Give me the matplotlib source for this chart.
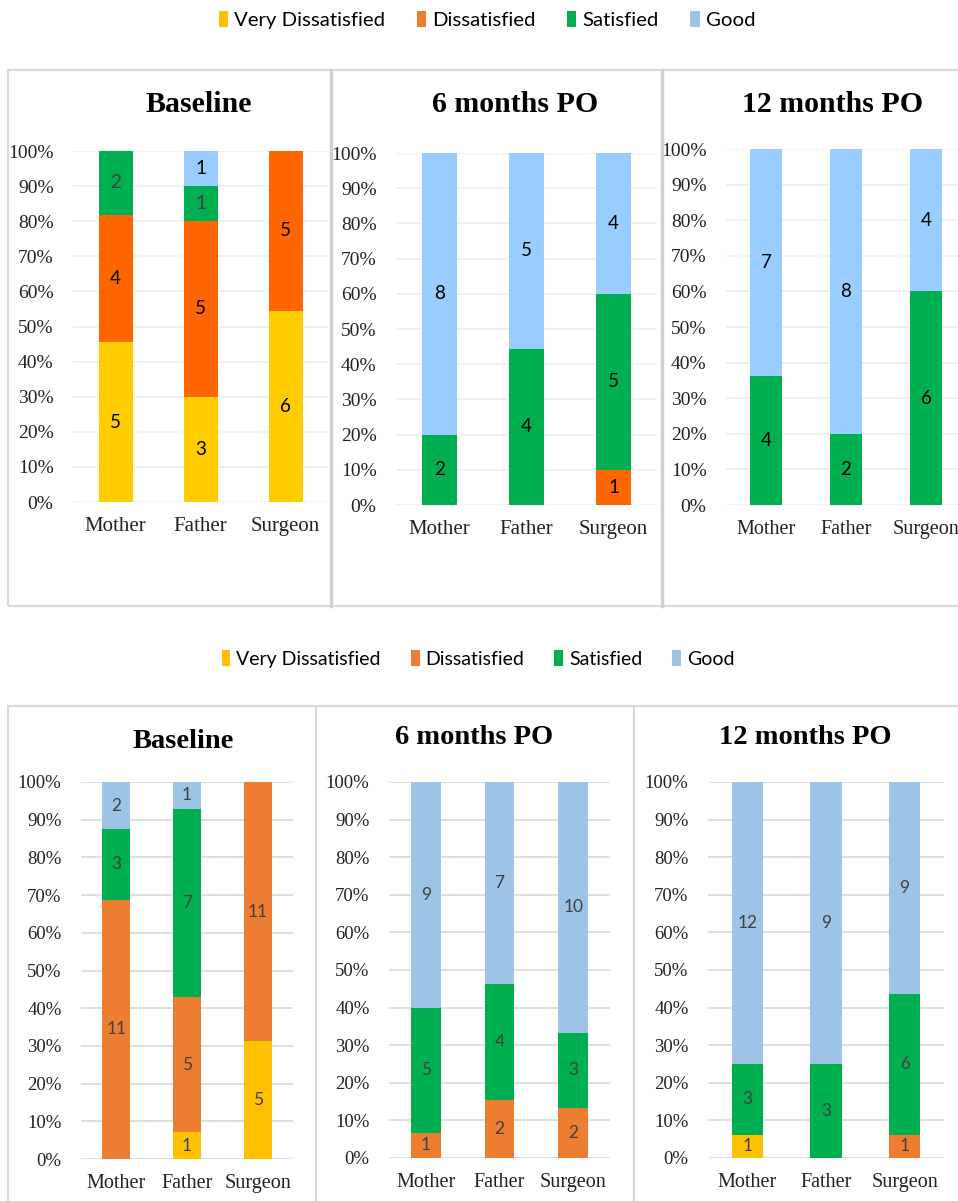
import matplotlib
matplotlib.use("Agg")
import matplotlib.pyplot as plt
from matplotlib.patches import Rectangle, Patch
from matplotlib.lines import Line2D
from matplotlib.ticker import PercentFormatter
import numpy as np

W, H = 958, 1201

groups = ["Mother", "Father", "Surgeon"]
levels = ["Very Dissatisfied", "Dissatisfied", "Satisfied", "Good"]
titles = ["Baseline", "6 months PO", "12 months PO"]

# counts per satisfaction level (rows) for Mother, Father, Surgeon (columns)
top_baseline = [[5, 3, 6], [4, 5, 5], [2, 1, 0], [0, 1, 0]]
top_6m = [[0, 0, 0], [0, 0, 1], [2, 4, 5], [8, 5, 4]]
top_12m = [[0, 0, 0], [0, 0, 0], [4, 2, 6], [7, 8, 4]]

bottom_baseline = [[0, 1, 5], [11, 5, 11], [3, 7, 0], [2, 1, 0]]
bottom_6m = [[0, 0, 0], [1, 2, 2], [5, 4, 3], [9, 7, 10]]
bottom_12m = [[1, 0, 0], [0, 0, 1], [3, 3, 6], [12, 9, 9]]

top_colors = ["#FFCC00", "#FF6600", "#00B050", "#99CCFF"]
legend_colors = ["#FFC000", "#ED7D31", "#00B050", "#9DC3E6"]
bottom_colors = ["#FFC000", "#ED7D31", "#00B050", "#9DC3E6"]

SERIF = ["Liberation Serif", "DejaVu Serif"]
SANS = ["Lato", "DejaVu Sans"]

fig = plt.figure(figsize=(W / 100, H / 100), dpi=100)
fig.patch.set_facecolor("white")


def frac_rect(left, top, right, bottom):
    return [left / W, 1 - bottom / H, (right - left) / W, (bottom - top) / H]


def border(x0, y0, x1, y1, lw=1.5, color="#d9d9d9"):
    fig.add_artist(Rectangle((x0 / W, 1 - y1 / H), (x1 - x0) / W, (y1 - y0) / H,
                             transform=fig.transFigure, fill=False,
                             edgecolor=color, linewidth=lw))


def vline(x, y0, y1, lw=2.5, color="#d0d0d0"):
    fig.add_artist(Line2D([x / W, x / W], [1 - y0 / H, 1 - y1 / H],
                          transform=fig.transFigure, color=color, linewidth=lw))


def stacked_panel(box, counts, colors, label_colors, title, title_xy,
                  grid_color, ytick_size, xtick_size, label_size, title_size):
    ax = fig.add_axes(frac_rect(*box))
    counts = np.array(counts, dtype=float)
    totals = counts.sum(axis=0)
    shares = counts / totals
    x = np.arange(len(groups))
    bottoms = np.zeros(len(groups))
    for i, lvl in enumerate(levels):
        ax.bar(x, shares[i], 0.4, bottom=bottoms, color=colors[i], zorder=3)
        for j in range(len(groups)):
            if counts[i, j] > 0:
                ax.text(x[j], bottoms[j] + shares[i, j] / 2, f"{int(counts[i, j])}",
                        ha="center", va="center", fontsize=label_size,
                        family=SANS, color=label_colors[i], zorder=4)
        bottoms += shares[i]
    ax.set_xlim(-0.5, len(groups) - 0.5)
    ax.set_ylim(0, 1)
    ax.set_yticks(np.linspace(0, 1, 11))
    ax.yaxis.set_major_formatter(PercentFormatter(1.0, decimals=0))
    ax.set_xticks(x)
    ax.set_xticklabels(groups)
    for lab in ax.get_yticklabels():
        lab.set_family(SERIF)
        lab.set_fontsize(ytick_size)
        lab.set_color("#222222")
    for lab in ax.get_xticklabels():
        lab.set_family(SERIF)
        lab.set_fontsize(xtick_size)
        lab.set_color("#222222")
    ax.tick_params(length=0)
    ax.tick_params(axis="y", pad=14)
    ax.tick_params(axis="x", pad=11)
    ax.grid(axis="y", color=grid_color, linewidth=1.2, zorder=0)
    for s in ax.spines.values():
        s.set_visible(False)
    fig.text(title_xy[0] / W, 1 - title_xy[1] / H, title, ha="center", va="center",
             fontsize=title_size, fontweight="bold", family=SERIF, color="black")
    return ax


def add_legend(cx, y, colors, fontsize, spacing):
    handles = [Patch(facecolor=c, edgecolor="none") for c in colors]
    fig.legend(handles, levels, loc="center", bbox_to_anchor=(cx / W, 1 - y / H),
               ncol=4, frameon=False, handlelength=0.45, handleheight=0.85,
               handletextpad=0.3, columnspacing=spacing,
               prop={"family": SANS, "size": fontsize})


# ---- upper figure ----
add_legend(487, 20, legend_colors, 14.7, 1.55)
border(8, 70, 975, 606)
vline(331, 70, 606)
vline(662, 70, 606)

blk = ["black", "black", "black", "black"]
stacked_panel((73, 151, 328, 502), top_baseline, top_colors,
              ["black", "black", "#404040", "black"], titles[0], (199, 105),
              "#eeeeee", 14, 15, 13.5, 21.5)
stacked_panel((396, 153, 657, 505), top_6m, top_colors, blk, titles[1], (515, 104),
              "#eeeeee", 14, 15, 13.5, 21.5)
stacked_panel((726, 149, 966, 505), top_12m, top_colors, blk, titles[2], (833, 104),
              "#eeeeee", 14, 14.5, 13.5, 21.5)

# ---- lower figure ----
add_legend(478, 659, legend_colors, 14, 1.55)
border(8, 706, 975, 1215)
vline(316, 706, 1201, lw=1.5, color="#d9d9d9")
vline(634, 706, 1201, lw=1.5, color="#d9d9d9")

grey = ["#404040"] * 4
stacked_panel((81, 782, 293, 1159), bottom_baseline, bottom_colors, grey,
              titles[0], (183, 742), "#d9d9d9", 13.5, 14.5, 12.5, 20.5)
stacked_panel((389, 782, 610, 1158), bottom_6m, bottom_colors, grey,
              titles[1], (474, 737), "#d9d9d9", 13.5, 14.5, 12.5, 20.5)
stacked_panel((708, 782, 944, 1158), bottom_12m, bottom_colors, grey,
              titles[2], (805, 737), "#d9d9d9", 13.5, 14.5, 12.5, 20.5)

fig.savefig("out.png", dpi=100, facecolor="white")
